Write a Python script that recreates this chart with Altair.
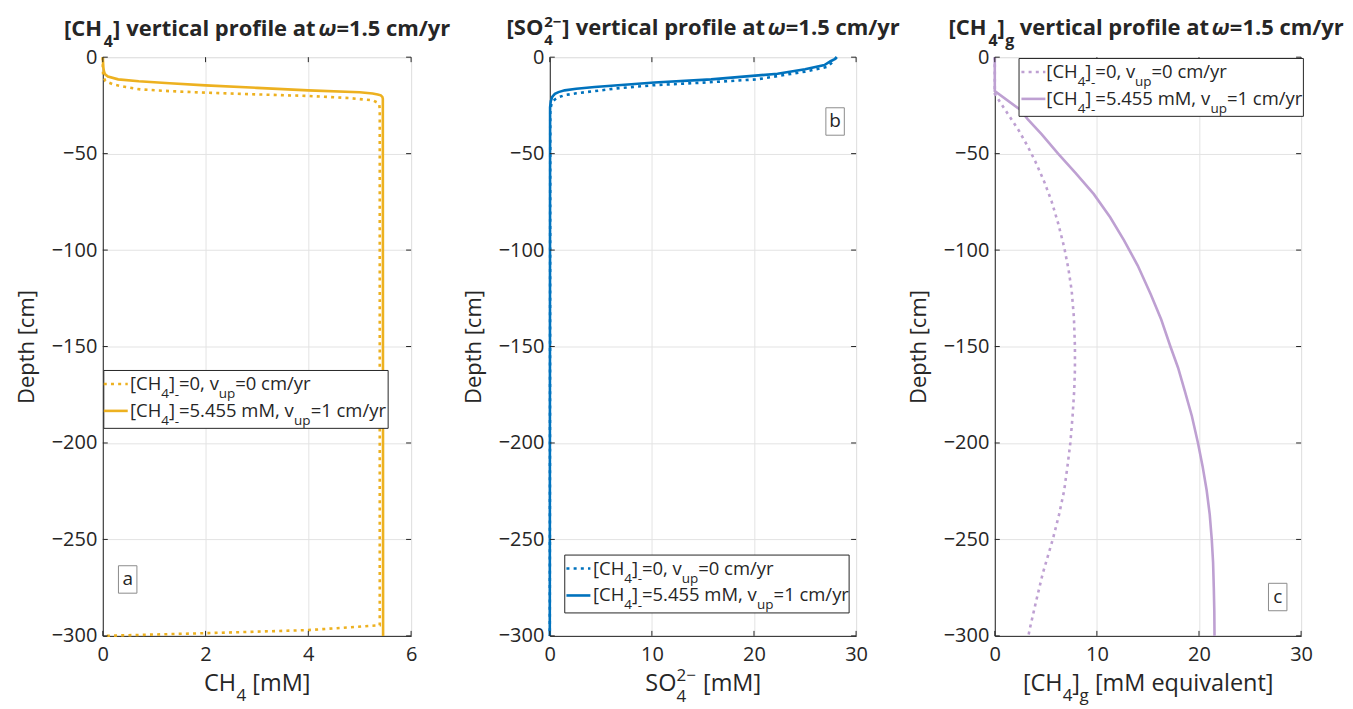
import altair as alt
import pandas as pd

FONT = "Open Sans"
DARK = "#262626"
ORANGE = "#EDB120"
BLUE = "#0072BD"
LILAC = "#BEA0D2"

W1, W2, W3 = 309, 307, 307
H = 580

# ---------------- data ----------------
depth_ticks = [0, -50, -100, -150, -200, -250, -300]
ch4_ticks = [0, 2, 4, 6]
so4_ticks = [0, 10, 20, 30]
ch4g_ticks = [0, 10, 20, 30]

# panel a: dissolved CH4 [mM]
ch4_nf_depth = [0, -6, -10, -12.4, -14.1, -15.5, -16.7, -17.6, -18.4, -19.3, -20.1, -21.2, -22.4, -23.5, -24.5, -27, -294.5, -297, -298.6, -300]
ch4_nf = [0, 0, 0.01, 0.05, 0.2, 0.45, 0.73, 1.3, 2.0, 3.0, 4.0, 4.8, 5.26, 5.34, 5.38, 5.39, 5.39, 4.0, 2.0, 0.0]
ch4_f_depth = [0, -5, -7, -8, -9, -10, -11.5, -12.5, -13.5, -14.6, -15.9, -17.2, -18.2, -18.8, -19.3, -19.8, -20.6, -21.5, -300]
ch4_f = [0, 0.01, 0.02, 0.03, 0.05, 0.1, 0.3, 0.7, 1.3, 2.0, 3.0, 4.0, 5.0, 5.25, 5.35, 5.41, 5.44, 5.45, 5.455]

# panel b: sulfate [mM]
so4_nf_depth = [0, -2.5, -5, -7.5, -11.5, -13.2, -14.5, -16.2, -17.6, -18.7, -19.7, -20.8, -21.9, -23.6, -27, -300]
so4_nf = [28.1, 27.7, 27.2, 25.0, 20.3, 15.0, 10.25, 6.5, 4.4, 2.6, 1.46, 0.85, 0.5, 0.2, 0.05, 0.0]
so4_f_depth = [0, -1, -2.1, -4.1, -6.3, -8.6, -11.5, -13.1, -14.4, -15.5, -16.4, -17.2, -18.1, -19, -20.5, -22.7, -26, -300]
so4_f = [28.1, 27.9, 27.5, 26.9, 25.0, 22.3, 15.8, 10.25, 7.0, 4.4, 2.6, 1.46, 0.85, 0.5, 0.25, 0.1, 0.03, 0.0]

# panel c: gas-phase CH4 [mM equivalent]
ch4g_nf_depth = [0, -19, -24, -29.6, -38, -46, -53.8, -64, -74.5, -86, -98.6, -110, -121, -135, -150, -162, -172.8, -186, -200, -212, -224.5, -237, -250, -267.6, -282, -297, -300]
ch4g_nf = [0, 0, 0.6, 1.3, 2.35, 3.2, 3.95, 4.8, 5.55, 6.2, 6.8, 7.22, 7.53, 7.75, 7.85, 7.85, 7.78, 7.62, 7.4, 7.12, 6.8, 6.3, 5.68, 4.7, 4.05, 3.4, 3.3]
ch4g_f_depth = [0, -17.6, -27, -32.2, -40, -50, -60, -71, -83, -95, -108, -122.8, -136, -150, -161, -172.8, -186, -200, -212, -224.5, -237, -250, -262, -275, -287, -300]
ch4g_f = [0, 0, 2.43, 3.24, 4.6, 6.2, 7.9, 9.7, 11.3, 12.66, 14.0, 15.26, 16.3, 17.2, 17.95, 18.6, 19.3, 19.9, 20.35, 20.75, 21.05, 21.25, 21.38, 21.45, 21.5, 21.52]

ONE = pd.DataFrame({"k": [0]})
DOT = [3, 4.2]

# approximate advance widths (em) of Open Sans, used to chain text pieces
REG = {' ': .26, '[': .306, ']': .306, 'C': .634, 'H': .755, '=': .572, ',': .245, '.': .266,
       'v': .501, 'u': .614, 'p': .613, 'c': .476, 'm': .93, 'M': .914, '/': .367, 'y': .501,
       'r': .408, '-': .322, 'S': .549, 'O': .781, 'g': .548, 'e': .561, 'q': .613, 'i': .253,
       'a': .556, 'l': .253, 'n': .614, 't': .353, '−': .572}
BOLD = {' ': .26, '[': .347, ']': .347, 'C': .654, 'H': .815, 'S': .558, 'O': .812, 'v': .564,
        'e': .59, 'r': .445, 't': .417, 'i': .288, 'c': .509, 'a': .603, 'l': .288, 'p': .635,
        'o': .613, 'f': .389, '=': .572, '.': .286, 'm': .96, '/': .433, 'y': .563, 'g': .557,
        '−': .572, 'ω': .82}


def tw(s, size, bold=False):
    t = BOLD if bold else REG
    return sum(t.get(ch, .572) for ch in s) * size


def axes(xdom, xticks):
    xa = alt.Axis(values=xticks, title=None, grid=True, ticks=False, labelPadding=9,
                  labelFontSize=20, labelFont=FONT, labelColor=DARK, domainColor=DARK,
                  gridColor="#e3e3e3", labelFlush=False)
    ya = alt.Axis(values=depth_ticks, title="Depth [cm]", grid=True, ticks=False, labelPadding=6,
                  labelFontSize=20, labelFont=FONT, labelColor=DARK, domainColor=DARK,
                  gridColor="#e3e3e3", titleFont=FONT, titleFontSize=22, titleFontWeight="normal",
                  titleColor=DARK, titleX=-76, titleY=H / 2, titleAngle=-90, titleAlign="center",
                  titleBaseline="middle", labelFlush=False)
    X = lambda: alt.X("val:Q", scale=alt.Scale(domain=xdom, nice=False, zero=False), axis=xa)
    Y = lambda: alt.Y("depth:Q", scale=alt.Scale(domain=[-300, 0], nice=False, zero=False), axis=ya)
    return X, Y


def profile(depth, vals, color, dotted, X, Y):
    df = pd.DataFrame({"depth": depth, "val": vals, "i": list(range(len(depth)))})
    kw = dict(color=color, strokeWidth=2.6, strokeCap="butt")
    if dotted:
        kw["strokeDash"] = DOT
    return alt.Chart(df).mark_line(**kw).encode(x=X(), y=Y(), order=alt.Order("i:Q"))


def inner_ticks(xticks, X, Y, w):
    tx = pd.DataFrame({"val": xticks})
    ty = pd.DataFrame({"depth": depth_ticks})
    r = dict(color=DARK, strokeWidth=1)
    return [
        alt.Chart(tx).mark_rule(**r).encode(x=X(), y=alt.value(0), y2=alt.value(5)),
        alt.Chart(tx).mark_rule(**r).encode(x=X(), y=alt.value(H), y2=alt.value(H - 5)),
        alt.Chart(ty).mark_rule(**r).encode(y=Y(), x=alt.value(0), x2=alt.value(5)),
        alt.Chart(ty).mark_rule(**r).encode(y=Y(), x=alt.value(w), x2=alt.value(w - 5)),
    ]


def txt(x, y, s, size=19, weight="normal", style="normal", align="left", baseline="middle"):
    return alt.Chart(ONE).mark_text(text=s, fontSize=size, fontWeight=weight, fontStyle=style,
                                    align=align, baseline=baseline, color=DARK, font=FONT
                                    ).encode(x=alt.value(x), y=alt.value(y))


def chain(y, parts, x0=None, center=None, bold=False):
    """parts: (text, size, dy, style, advance or None); spaces are kept as advances only"""
    advs = [tw(s, sz, bold) if a is None else a for (s, sz, dy, st, a) in parts]
    total = sum(advs)
    x = x0 if center is None else center - total / 2
    out = []
    for (s, sz, dy, st, a), adv in zip(parts, advs):
        lead = len(s) - len(s.lstrip(" "))
        out.append(txt(x + tw(" " * lead, sz, bold), y + dy, s.strip(" "), sz,
                       weight="bold" if bold else "normal", style=st))
        x += adv
    return out


def box(x0, y0, x1, y1, stroke=DARK):
    return alt.Chart(ONE).mark_rect(fill="white", stroke=stroke, strokeWidth=1).encode(
        x=alt.value(x0), x2=alt.value(x1), y=alt.value(y0), y2=alt.value(y1))


def sample(x0, x1, y, color, dotted):
    kw = dict(color=color, strokeWidth=2.6, strokeCap="butt")
    if dotted:
        kw["strokeDash"] = DOT
    return alt.Chart(ONE).mark_rule(**kw).encode(x=alt.value(x0), x2=alt.value(x1), y=alt.value(y))


LG, LS = 18.5, 13.5


def legend(bx, by, color, sx, tx):
    out = [box(bx, by, bx + 285, by + 58)]
    rows = [(by + 13.5, True, "=0, v", "=0 cm/yr"),
            (by + 40.5, False, "=5.455 mM, v", "=1 cm/yr")]
    for (y, dotted, mid, rest) in rows:
        out.append(sample(sx, sx + 24, y, color, dotted))
        out += chain(y, [("[CH", LG, 0, "normal", None), ("4", LS, 10, "normal", None),
                         ("]", LG, 0, "normal", None), ("-", LS, 11, "normal", None),
                         (mid, LG, 0, "normal", None), ("up", LS, 10, "normal", None),
                         (rest, LG, 0, "normal", None)], x0=tx)
    return out


def label_box(x0, y0, s):
    return [box(x0, y0, x0 + 18.5, y0 + 27.5, stroke="#8c8c8c"),
            txt(x0 + 9.25, y0 + 13.5, s, 19, align="center")]


TS, TSS = 22, 16
TAIL = [(" vertical profile at ", TS, 0, "normal", None), ("ω", TS, 0, "italic", None),
        ("=1.5 cm/yr", TS, 0, "normal", None)]
XS, XSS = 23.5, 17

# ---------------- panel a ----------------
Xa, Ya = axes([0, 6], ch4_ticks)
pa = alt.layer(
    profile(ch4_nf_depth, ch4_nf, ORANGE, True, Xa, Ya),
    profile(ch4_f_depth, ch4_f, ORANGE, False, Xa, Ya),
    *inner_ticks(ch4_ticks, Xa, Ya, W1),
    *legend(1, 314, ORANGE, 1, 27.3),
    *label_box(15.7, 509.7, "a"),
    *chain(-28.5, [("[CH", TS, 0, "normal", None), ("4", TSS, 13, "normal", None),
                   ("]", TS, 0, "normal", None)] + TAIL, center=W1 / 2, bold=True),
    *chain(628, [("CH", XS, 0, "normal", None), ("4", XSS, 12, "normal", None),
                 (" [mM]", XS, 0, "normal", None)], center=W1 / 2),
).properties(width=W1, height=H)

# ---------------- panel b ----------------
Xb, Yb = axes([0, 30], so4_ticks)
stack_t = tw("2−", 15, True) + 1
stack_x = tw("2−", XSS) + 1
pb = alt.layer(
    profile(so4_nf_depth, so4_nf, BLUE, True, Xb, Yb),
    profile(so4_f_depth, so4_f, BLUE, False, Xb, Yb),
    *inner_ticks(so4_ticks, Xb, Yb, W2),
    *legend(15, 499, BLUE, 16.7, 43.3),
    *label_box(276.7, 50.7, "b"),
    *chain(-29, [("[SO", TS, 0, "normal", None), ("2−", 15, -6, "normal", 0),
                 ("4", 15, 11.5, "normal", stack_t), ("]", TS, 0, "normal", None)] + TAIL,
           center=W2 / 2, bold=True),
    *chain(628, [("SO", XS, 0, "normal", None), ("2−", XSS, -8, "normal", 0),
                 ("4", XSS, 13, "normal", stack_x), (" [mM]", XS, 0, "normal", None)],
           center=W2 / 2),
).properties(width=W2, height=H)

# ---------------- panel c ----------------
Xc, Yc = axes([0, 30], ch4g_ticks)
pc = alt.layer(
    profile(ch4g_nf_depth, ch4g_nf, LILAC, True, Xc, Yc),
    profile(ch4g_f_depth, ch4g_f, LILAC, False, Xc, Yc),
    *inner_ticks(ch4g_ticks, Xc, Yc, W3),
    *legend(24.3, 1.3, LILAC, 26.7, 51.7),
    *label_box(274.3, 527.3, "c"),
    *chain(-29, [("[CH", TS, 0, "normal", None), ("4", TSS, 13, "normal", None),
                 ("]", TS, 0, "normal", None), ("g", TSS, 13, "normal", None)] + TAIL,
           center=W3 / 2 - 2, bold=True),
    *chain(628, [("[CH", XS, 0, "normal", None), ("4", XSS, 12, "normal", None),
                 ("]", XS, 0, "normal", None), ("g", XSS, 12, "normal", None),
                 (" [mM equivalent]", XS, 0, "normal", None)], center=W3 / 2),
).properties(width=W3, height=H)

chart = alt.hconcat(pa, pb, pc, spacing=139, bounds="flush").properties(
    padding={"left": 7, "top": 5.5, "right": 0, "bottom": 6}
).configure_view(stroke="#4a4a4a", strokeWidth=1).configure(background="white")

chart.save("out.html", embed_options={"renderer": "svg", "actions": False})
